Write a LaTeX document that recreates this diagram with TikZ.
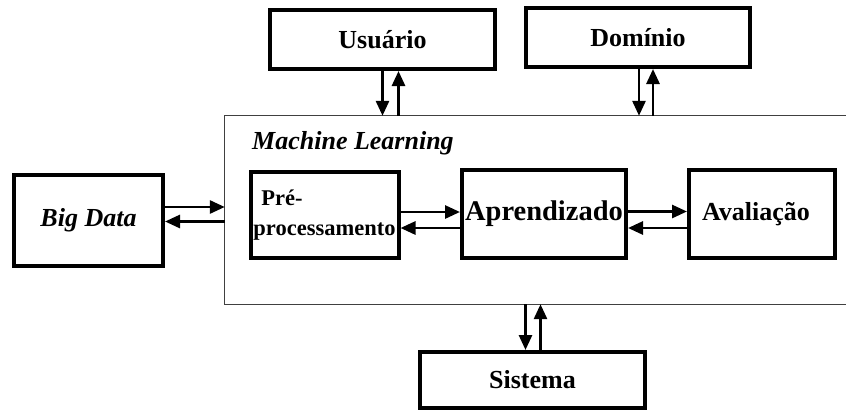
\documentclass[tikz,border=0pt]{standalone}
\usepackage{fontspec}
\setmainfont{Liberation Serif}
\usetikzlibrary{arrows.meta}
\begin{document}
\begin{tikzpicture}[x=1pt,y=-1pt,
  box/.style={draw,line width=4pt,inner sep=0pt,font=\fontsize{26}{30}\selectfont\bfseries},
  arr/.style={line width=2.8pt,-{Triangle[length=15pt,width=13pt]}}]
  \useasboundingbox (0,0) rectangle (846,410);
  % Machine Learning frame (open on the right)
  \node[inner sep=0pt,minimum width=621pt,minimum height=188pt] (ml) at (535.5,210) {};
  \draw[line width=1pt,black!75] (ml.north east) -- (ml.north west) -- (ml.south west) -- (ml.south east);
  \node[anchor=base west,inner sep=0pt,font=\fontsize{26}{30}\selectfont\bfseries\itshape] (mltitle) at (252,149) {Machine Learning};
  % outer boxes
  \node[box,minimum width=225pt,minimum height=59pt] (usuario) at (382.5,39.5) {Usuário};
  \node[box,minimum width=224pt,minimum height=59pt] (dominio) at (638,37.5) {Domínio};
  \node[box,minimum width=149pt,minimum height=91pt,font=\fontsize{26}{30}\selectfont\bfseries\itshape] (bigdata) at (88.5,220.5) {Big Data};
  \node[box,minimum width=225pt,minimum height=56pt] (sistema) at (532.5,380) {Sistema};
  % inner boxes
  \node[box,minimum width=148pt,minimum height=86pt,align=left,font=\fontsize{22.5}{30}\selectfont\bfseries] (pre) at (324.5,215) {\hspace*{8pt}Pré-\\processamento};
  \node[box,minimum width=164pt,minimum height=88pt,font=\fontsize{28.5}{32}\selectfont\bfseries] (apr) at (544,214) {Aprendizado};
  \node[box,minimum width=146pt,minimum height=88pt] (aval) at (762,214) {\hspace*{-12pt}Avaliação};
  % connectors
  \draw[arr] (usuario.south) -- (usuario.south |- ml.north);
  \draw[arr] ([xshift=16pt]usuario.south |- ml.north) -- ([xshift=16pt]usuario.south);
  \draw[arr] ([xshift=1pt]dominio.south) -- ([xshift=1pt]dominio.south |- ml.north);
  \draw[arr] ([xshift=15pt]dominio.south |- ml.north) -- ([xshift=15pt]dominio.south);
  \draw[arr] ([xshift=-7pt]sistema.north |- ml.south) -- ([xshift=-7pt]sistema.north);
  \draw[arr] ([xshift=8pt]sistema.north) -- ([xshift=8pt]sistema.north |- ml.south);
  \draw[arr] ([yshift=13.5pt]bigdata.east) -- ([yshift=13.5pt]bigdata.east -| ml.west);
  \draw[arr] ([yshift=-1pt]bigdata.east -| ml.west) -- ([yshift=-1pt]bigdata.east);
  \draw[arr] ([yshift=3pt]pre.east) -- ([yshift=3pt]pre.east -| apr.west);
  \draw[arr] ([yshift=-13pt]pre.east -| apr.west) -- ([yshift=-13pt]pre.east);
  \draw[arr] ([yshift=2.5pt]apr.east) -- ([yshift=2.5pt]apr.east -| aval.west);
  \draw[arr] ([yshift=-14pt]apr.east -| aval.west) -- ([yshift=-14pt]apr.east);
\end{tikzpicture}
\end{document}
